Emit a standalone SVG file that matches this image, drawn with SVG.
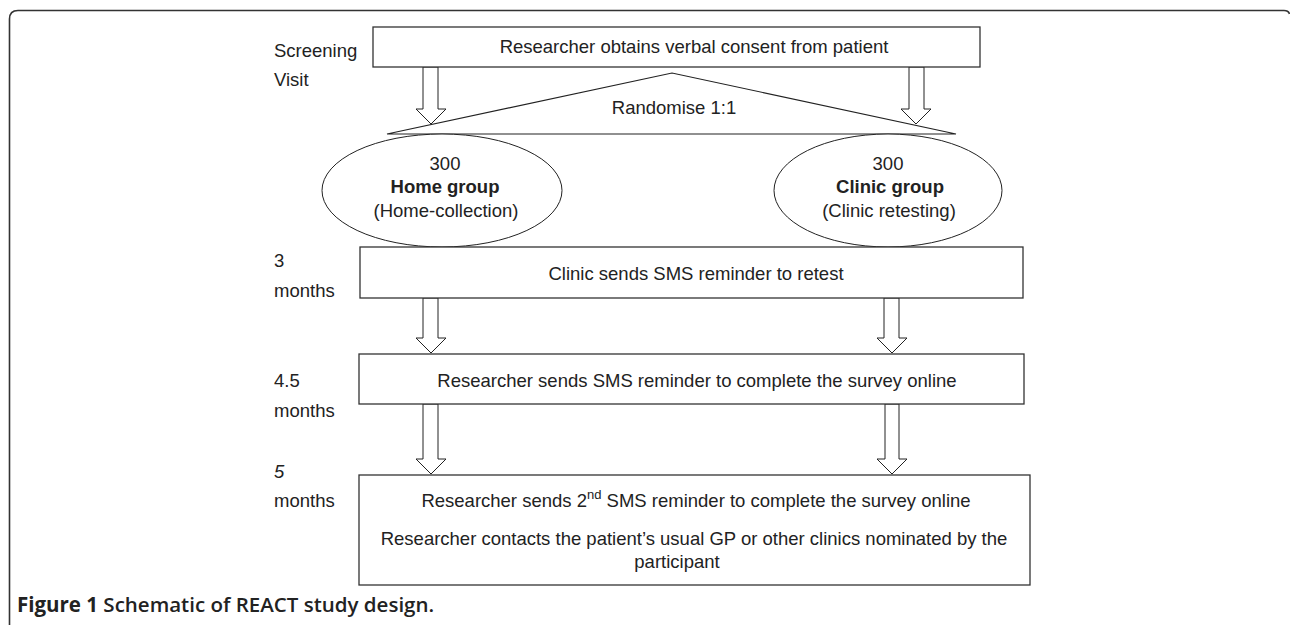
<svg xmlns="http://www.w3.org/2000/svg" width="1290" height="625" viewBox="0 0 1290 625">
<style>
  .t { font-family: "Liberation Sans", Arial, sans-serif; font-size: 18.5px; fill: #222; }
  .c { text-anchor: middle; }
  .b { font-weight: bold; }
  .box { fill: #fff; stroke: #333; stroke-width: 1.3; }
  .ell { fill: #fff; stroke: #222; stroke-width: 1; }
  .arr { fill: #fff; stroke: #222; stroke-width: 1; stroke-linejoin: miter; }
  .tri { fill: none; stroke: #222; stroke-width: 1.1; }
  .frame { fill: none; stroke: #333; stroke-width: 1.6; }
  .cap { font-family: "Open Sans", "Liberation Sans", sans-serif; font-size: 20.5px; fill: #222; }
</style>
<rect width="1290" height="625" fill="#fff"/>
<path class="frame" d="M9.5,625 V19 Q9.5,10.5 18,10.5 H1284 Q1288.5,10.5 1289.5,14"/>

<g id="labels">
  <text class="t" x="274" y="57">Screening</text>
  <text class="t" x="274" y="86">Visit</text>
  <text class="t" x="274" y="267">3</text>
  <text class="t" x="274" y="297">months</text>
  <text class="t" x="274" y="387">4.5</text>
  <text class="t" x="274" y="417">months</text>
  <text class="t" x="274" y="478" font-style="italic">5</text>
  <text class="t" x="274" y="507">months</text>
</g>

<g id="connectors">
  <polygon class="tri" points="387,134 672,73 956,134"/>
  <polygon class="arr" points="423,67 438,67 438,109 446,109 431,124 416,109 423,109"/>
  <polygon class="arr" points="909,67 924,67 924,109 931,109 916,124 901,109 909,109"/>
  <polygon class="arr" points="423,298 438,298 438,338 446,338 431,353 416,338 423,338"/>
  <polygon class="arr" points="884,298 899,298 899,338 907,338 892,353 877,338 884,338"/>
  <polygon class="arr" points="423,404 438,404 438,459 446,459 431,474 416,459 423,459"/>
  <polygon class="arr" points="885,404 899,404 899,459 907,459 892,474 877,459 885,459"/>
  <text class="t c" x="674" y="114">Randomise 1:1</text>
</g>

<g id="consent">
  <rect class="box" x="373" y="27" width="607" height="40"/>
  <text class="t c" x="694" y="53">Researcher obtains verbal consent from patient</text>
</g>

<g id="home-group">
  <ellipse class="ell" cx="442" cy="190.5" rx="120" ry="56.5"/>
  <text class="t c" x="445" y="170">300</text>
  <text class="t c b" x="445" y="193">Home group</text>
  <text class="t c" x="446" y="217">(Home-collection)</text>
</g>

<g id="clinic-group">
  <ellipse class="ell" cx="888" cy="190.5" rx="114" ry="56.5"/>
  <text class="t c" x="888" y="170">300</text>
  <text class="t c b" x="890" y="193">Clinic group</text>
  <text class="t c" x="889" y="217">(Clinic retesting)</text>
</g>

<g id="sms-3m">
  <rect class="box" x="360" y="247" width="663" height="51"/>
  <text class="t c" x="696" y="280">Clinic sends SMS reminder to retest</text>
</g>

<g id="sms-4-5m">
  <rect class="box" x="359" y="354" width="665" height="50"/>
  <text class="t c" x="697" y="387">Researcher sends SMS reminder to complete the survey online</text>
</g>

<g id="sms-5m">
  <rect class="box" x="359" y="475" width="671" height="110"/>
  <text class="t c" x="696" y="507">Researcher sends 2<tspan font-size="13" dy="-8">nd</tspan><tspan dy="8"> SMS reminder to complete the survey online</tspan></text>
  <text class="t c" x="694" y="545">Researcher contacts the patient’s usual GP or other clinics nominated by the</text>
  <text class="t c" x="677" y="568">participant</text>
</g>

<text class="cap" x="17" y="612"><tspan font-weight="700">Figure 1</tspan> <tspan font-weight="600">Schematic of REACT study design.</tspan></text>
</svg>
